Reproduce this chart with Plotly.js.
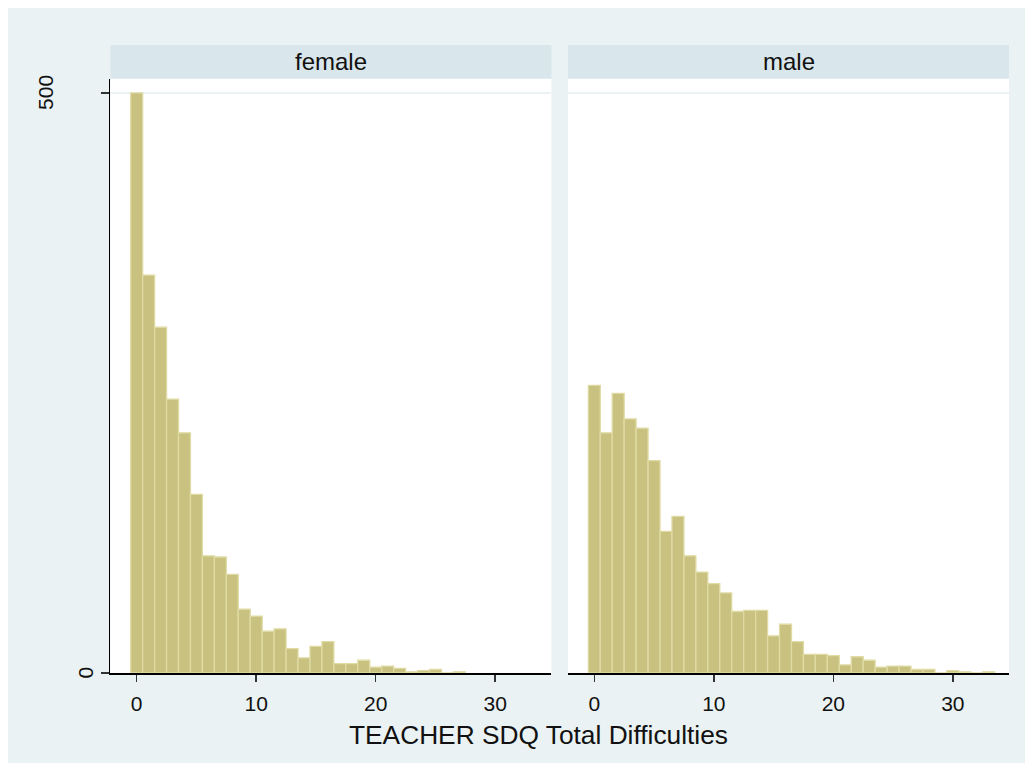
<!DOCTYPE html>
<html>
<head>
<meta charset="utf-8">
<script src="https://cdn.plot.ly/plotly-3.0.1.min.js"></script>
<style>html,body{margin:0;padding:0;background:#fff;}#chart{width:1033px;height:771px;}</style>
</head>
<body>
<div id="chart"></div>
<script>
// Scores (bin centres, width 1)
const femaleScores = [0,1,2,3,4,5,6,7,8,9,10,11,12,13,14,15,16,17,18,19,20,21,22,23,24,25,26,27];
const femaleCounts = [500,343,298,236,207,154,101,100,85,55,49,36,38,21,13,23,27,8,8,11,5,6,4,1,2,3,0,1];
const maleScores = [0,1,2,3,4,5,6,7,8,9,10,11,12,13,14,15,16,17,18,19,20,21,22,23,24,25,26,27,28,29,30,31,32,33];
const maleCounts = [248,207,241,219,211,183,122,135,101,87,77,69,53,54,54,32,42,27,16,16,15,7,14,11,5,6,6,3,3,0,2,1,0,1];
const panelLabels = ["female", "male"];
const xTickVals = [0,10,20,30];
const yTickVals = [0,500];
const yTickText = ["0","500"];
const xTitle = "TEACHER SDQ Total Difficulties";

const W = 1033, H = 771;
const px = v => v / W, py = v => 1 - v / H;

const barColor = 'rgb(200,193,127)';
const barLine = 'rgb(224,219,165)';
const outerBg = 'rgb(234,242,243)';
const stripBg = 'rgb(217,230,235)';
const font = 'Arial, "Liberation Sans", sans-serif';

const traces = [
  {type:'bar', x: femaleScores, y: femaleCounts, width: 1, xaxis:'x', yaxis:'y',
   marker:{color: barColor, line:{color: barLine, width: 1.3}}, hoverinfo:'x+y'},
  {type:'bar', x: maleScores, y: maleCounts, width: 1, xaxis:'x2', yaxis:'y2',
   marker:{color: barColor, line:{color: barLine, width: 1.3}}, hoverinfo:'x+y'}
];

const xr = [-2.2, 34.7];
const yr = [0, 512];
const xd1 = [px(110.4), px(551.4)];
const xd2 = [px(568), px(1009)];
const yd = [py(673), py(79)];

const xaxisBase = {
  range: xr, tickvals: xTickVals, ticks:'outside', ticklen: 7, tickwidth: 1.5,
  tickcolor:'#333', showline: true, linecolor:'#000', linewidth: 1.5,
  showgrid:false, zeroline:false, tickfont:{family: font, size: 21, color:'#111'},
  ticklabelstandoff: 4, fixedrange:true
};
const yaxisBase = {
  range: yr, tickvals: yTickVals, showgrid: true, gridcolor: outerBg, gridwidth: 1.5,
  zeroline:false, showticklabels:false, fixedrange:true
};

const shapes = [
  {type:'rect', xref:'paper', yref:'paper', x0:px(8), x1:px(1025), y0:py(763), y1:py(8),
   fillcolor: outerBg, line:{width:0}, layer:'below'},
  {type:'rect', xref:'x domain', yref:'paper', x0:0, x1:1, y0:yd[0], y1:yd[1],
   fillcolor:'#fff', line:{width:0}, layer:'below'},
  {type:'rect', xref:'x2 domain', yref:'paper', x0:0, x1:1, y0:yd[0], y1:yd[1],
   fillcolor:'#fff', line:{width:0}, layer:'below'},
  {type:'rect', xref:'x domain', yref:'paper', x0:0, x1:1, y0:py(78.5), y1:py(45),
   fillcolor: stripBg, line:{width:0}, layer:'below'},
  {type:'rect', xref:'x2 domain', yref:'paper', x0:0, x1:1, y0:py(78.5), y1:py(45),
   fillcolor: stripBg, line:{width:0}, layer:'below'}
];

const annotations = [
  {text: panelLabels[0], xref:'x domain', yref:'paper', x:0.5, y:py(61.5), showarrow:false,
   font:{family: font, size: 24, color:'#111'}, xanchor:'center', yanchor:'middle'},
  {text: panelLabels[1], xref:'x2 domain', yref:'paper', x:0.5, y:py(61.5), showarrow:false,
   font:{family: font, size: 24, color:'#111'}, xanchor:'center', yanchor:'middle'},
  {text: xTitle, xref:'paper', yref:'paper', x: px(538.5), y: py(735), showarrow:false,
   font:{family: font, size: 26.3, color:'#111'}, xanchor:'center', yanchor:'middle'}
];
const yLabelX = [84.5, 46];
yTickVals.forEach((v, i) => {
  annotations.push({text: yTickText[i], xref:'paper', yref:'y', x: px(yLabelX[i]), y: v,
    showarrow:false, textangle:-90, font:{family: font, size: 21, color:'#111'},
    xanchor:'center', yanchor:'middle'});
});

const layout = {
  width: W, height: H, margin:{l:0,r:0,t:0,b:0}, paper_bgcolor:'#fff', plot_bgcolor:'rgba(0,0,0,0)',
  showlegend:false, bargap:0,
  xaxis: Object.assign({}, xaxisBase, {domain: xd1, anchor:'y'}),
  xaxis2: Object.assign({}, xaxisBase, {domain: xd2, anchor:'y2'}),
  yaxis: Object.assign({}, yaxisBase, {domain: yd, anchor:'x', showline:true, linecolor:'#000', linewidth:1.5,
    ticks:'outside', ticklen: 8, tickwidth:1.5, tickcolor:'#333'}),
  yaxis2: Object.assign({}, yaxisBase, {domain: yd, anchor:'x2', showline:false, ticks:''}),
  shapes: shapes, annotations: annotations
};

Plotly.newPlot('chart', traces, layout, {displayModeBar:false, staticPlot:true});
</script>
</body>
</html>
